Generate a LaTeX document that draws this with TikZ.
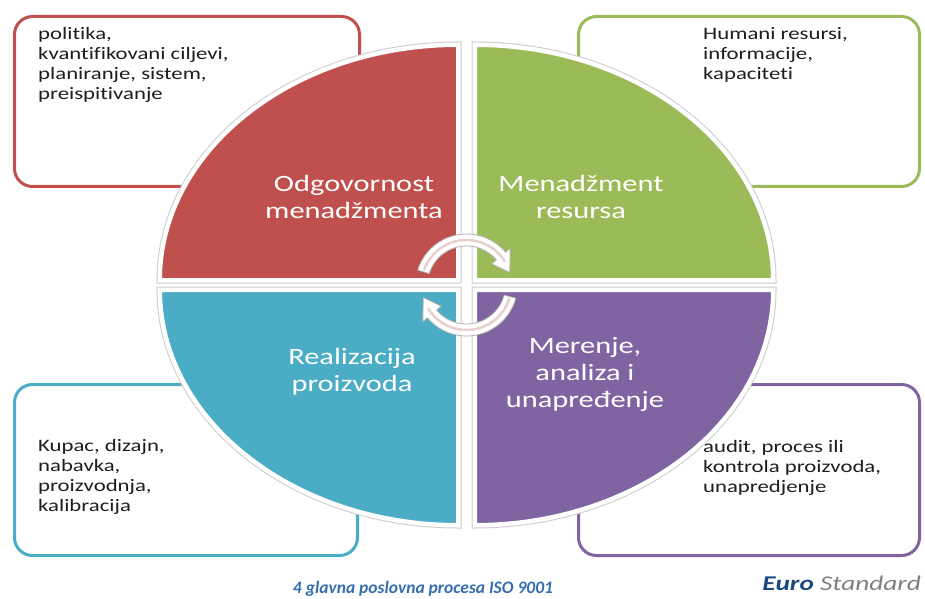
\documentclass[tikz,border=0pt]{standalone}
\usepackage{fontspec}
\setmainfont{Carlito}[Ligatures=NoCommon]
\newfontfamily\wide{Carlito}[FakeStretch=1.3, Ligatures=NoCommon]
\definecolor{cRed}{RGB}{192,80,77}
\definecolor{cGreen}{RGB}{155,187,89}
\definecolor{cBlue}{RGB}{75,172,198}
\definecolor{cPurple}{RGB}{128,100,162}
\definecolor{textdark}{RGB}{30,30,30}
\definecolor{capblue}{RGB}{54,110,175}
\definecolor{eurodark}{RGB}{31,73,125}
\definecolor{stdgray}{RGB}{128,128,128}
\definecolor{arrowcore}{RGB}{232,208,206}
\begin{document}
\begin{tikzpicture}[x=1pt,y=1pt,
  infobox/.style={draw=#1, line width=3pt, rounded corners=18pt, fill=white},
  sectorshadow/.style={draw=black!20, line width=6.5pt},
  sector/.style={fill=#1, draw=white, line width=4.5pt},
  title/.style={text=white, align=center, inner sep=0pt,
    font=\wide\fontsize{23.4}{27}\selectfont},
  boxtext/.style={text=textdark, align=left, anchor=north west, inner sep=0pt,
    font=\wide\fontsize{17.5}{20}\selectfont},
  arrowband/.style={fill=white, draw=black!30, line width=0.8pt, line join=round},
  arrowline/.style={draw=arrowcore, line width=2.5pt, line cap=round}
]
\clip (0,0) rectangle (925,598);
\fill[white] (0,0) rectangle (925,598);

% info boxes
\draw[infobox=cRed]    (14.5,411.5)  rectangle (359.5,581.5);
\draw[infobox=cGreen]  (578.5,411.5) rectangle (919.5,581.5);
\draw[infobox=cBlue]   (14.5,42.5)   rectangle (357.5,213.5);
\draw[infobox=cPurple] (578.5,42.5)  rectangle (919.5,213.5);

% sectors
\def\rx{298.5}\def\ry{235.5}
\foreach \cx/\cy/\sa/\ea/\col in {458.25/317.75/180/90/cRed, 474.75/317.75/90/0/cGreen,
                                  458.25/308.25/180/270/cBlue, 474.75/308.25/0/-90/cPurple}{
  \path[sectorshadow] (\cx,\cy) -- ++(\sa:\rx pt and \ry pt) arc[start angle=\sa, end angle=\ea, x radius=\rx, y radius=\ry] -- cycle;
}
\foreach \cx/\cy/\sa/\ea/\col in {458.25/317.75/180/90/cRed, 474.75/317.75/90/0/cGreen,
                                  458.25/308.25/180/270/cBlue, 474.75/308.25/0/-90/cPurple}{
  \path[sector=\col] (\cx,\cy) -- ++(\sa:\rx pt and \ry pt) arc[start angle=\sa, end angle=\ea, x radius=\rx, y radius=\ry] -- cycle;
}

% circular arrows
\begin{scope}[shift={(466.5,313)}]
  \path[arrowband] (163:51) arc[start angle=163, end angle=40, radius=51]
      -- (40:57) -- (16:45) -- (40:33) -- (40:39)
      arc[start angle=40, end angle=163, radius=39] -- cycle;
  \draw[arrowline] (160:45) arc[start angle=160, end angle=32, radius=45];
  \path[arrowband] (-15:51) arc[start angle=-15, end angle=-140, radius=51]
      -- (-140:57) -- (-164:45) -- (-140:33) -- (-140:39)
      arc[start angle=-140, end angle=-15, radius=39] -- cycle;
  \draw[arrowline] (-18:45) arc[start angle=-18, end angle=-148, radius=45];
\end{scope}

% sector titles
\node[title] (t1) at (354,401.5) {Odgovornost\\menadžmenta};
\node[title] (t2) at (581,401.5) {Menadžment\\resursa};
\node[title] (t3) at (352,226.5) {Realizacija\\proizvoda};
\node[title] (t4) at (585,224) {Merenje,\\analiza i\\unapređenje};

% box texts
\node[boxtext] (b1) at (38,571) {politika,\\kvantifikovani ciljevi,\\planiranje, sistem,\\preispitivanje};
\node[boxtext] (b2) at (703,571) {Humani resursi,\\informacije,\\kapaciteti};
\node[boxtext] (b3) at (38,159) {Kupac, dizajn,\\nabavka,\\proizvodnja,\\kalibracija};
\node[boxtext] (b4) at (703,158) {audit, proces ili\\kontrola proizvoda,\\unapredjenje};

% captions
\node[anchor=base, inner sep=0pt, text=capblue, font=\bfseries\itshape\fontsize{17.5}{20}\selectfont] (cap) at (423,4.5) {4 glavna poslovna procesa ISO 9001};
\node[anchor=base east, inner sep=0pt, font=\wide\itshape\fontsize{21}{24}\selectfont] (brand) at (921,8) {\textcolor{eurodark}{\bfseries Euro} \textcolor{stdgray}{Standard}};
\end{tikzpicture}
\end{document}
